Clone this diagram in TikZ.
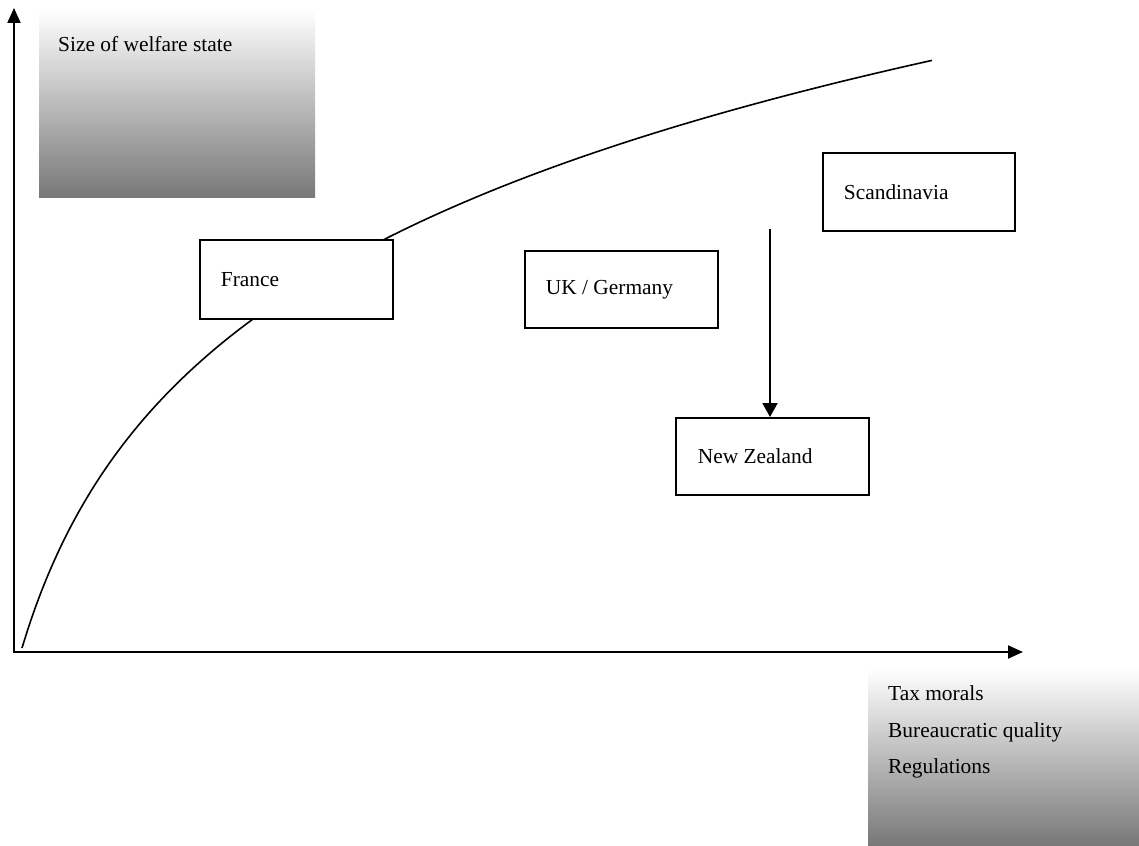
\documentclass[tikz,border=0pt]{standalone}
\usepackage{fontspec}
\setmainfont{Liberation Serif}
\usetikzlibrary{arrows.meta}
\newcommand{\lefttext}[2]{\makebox[#1][l]{#2}}
\begin{document}
\begin{tikzpicture}[x=1pt,y=-1pt,
  lbl/.style={font=\fontsize{21.4}{26}\selectfont, inner sep=0pt, anchor=base west},
  gradbox/.style={shade, top color=white, bottom color=black!53, draw=none, inner sep=0pt, anchor=north west},
  cbox/.style={draw, line width=1.8pt, fill=white, minimum height=#1, inner ysep=0pt,
    font=\fontsize{21.4}{26}\selectfont, anchor=north west},
  axis/.style={line width=2pt, {Triangle[length=15pt,width=13pt]}-{Triangle[length=15pt,width=13pt]}},
  conn/.style={line width=1.8pt, -{Triangle[length=14pt,width=15pt]}},
  curve/.style={line width=1.6pt}]
\useasboundingbox (0,0) rectangle (1139,845);
% gradient boxes
\node[gradbox, minimum width=276pt, minimum height=188pt] (ybox) at (39,9) {};
\node[gradbox, minimum width=271pt, minimum height=177pt] (xbox) at (868,668) {};
\node[lbl] (ylab) at (58,52) {Size of welfare state};
\node[lbl] (x1) at (888,700) {Tax morals};
\node[lbl] (x2) at (888,737) {Bureaucratic quality};
\node[lbl] (x3) at (888,773) {Regulations};
% axes
\coordinate (o) at (14,652);
\coordinate (ytip) at (14,8);
\coordinate (xtip) at (1023,652);
\draw[axis] (ytip) -- (o) -- (xtip);
% curve
\draw[curve] plot[domain=22:932, samples=150, smooth] (\x, {648-217*ln(1+(\x-22)/65)});
% country boxes
\node[cbox=79pt, inner xsep=21pt] (fr) at (199,239) {\lefttext{151pt}{France}};
\node[cbox=77pt, inner xsep=21pt] (uk) at (524,250) {\lefttext{151pt}{UK / Germany}};
\node[cbox=78pt, inner xsep=21pt] (sc) at (822,152) {\lefttext{150pt}{Scandinavia}};
\node[cbox=77pt, inner xsep=22pt] (nz) at (675,417) {\lefttext{149pt}{New Zealand}};
% arrow
\coordinate (s) at (770,229);
\draw[conn] (s) -- (s |- nz.north);
\end{tikzpicture}
\end{document}
